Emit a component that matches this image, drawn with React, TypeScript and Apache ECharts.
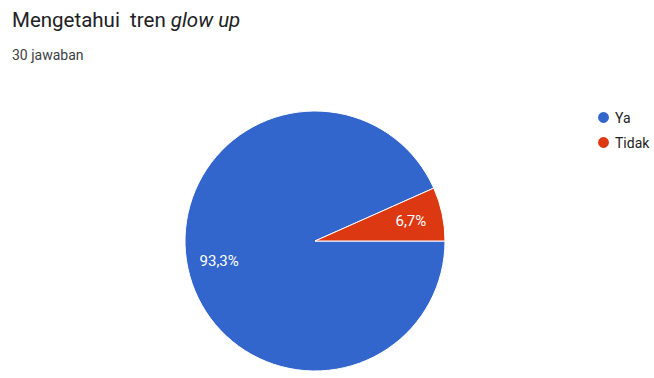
import React, { useEffect, useRef } from "react";
import * as echarts from "echarts";

const categories = ["Ya", "Tidak"];
const counts = [28, 2];
const labels = ["93,3%", "6,7%"];
const colors = ["#3366cc", "#dc3912"];
const titleText = "Mengetahui  tren ";
const titleItalic = "glow up";
const subtitleText = "30 jawaban";

export default function App() {
  const ref = useRef<HTMLDivElement>(null);
  useEffect(() => {
    if (!ref.current) return;
    const chart = echarts.init(ref.current, undefined, { renderer: "svg" });
    const data = categories.map((c, i) => ({
      name: c,
      value: counts[i],
      itemStyle: { color: colors[i] },
    }));
    chart.setOption({
      animation: false,
      textStyle: { fontFamily: "Roboto" },
      title: [
        {
          text: `${titleText}{i|${titleItalic}}`,
          left: 12,
          top: 8,
          padding: 0,
          textStyle: {
            fontSize: 20.5,
            lineHeight: 24,
            fontWeight: "normal",
            color: "#202124",
            fontFamily: "Roboto",
            rich: {
              i: { fontStyle: "italic", fontSize: 20.5, lineHeight: 24, color: "#202124", fontFamily: "Roboto" },
            },
          },
        },
        {
          text: subtitleText,
          left: 12,
          top: 47,
          padding: 0,
          textStyle: {
            fontSize: 14,
            lineHeight: 16,
            fontWeight: "normal",
            color: "#3c4043",
            fontFamily: "Roboto",
          },
        },
      ],
      legend: {
        orient: "vertical",
        left: 596,
        top: 110,
        padding: 0,
        data: categories,
        icon: "circle",
        itemWidth: 13,
        itemHeight: 13,
        itemGap: 10,
        textStyle: { fontSize: 14, color: "#222222", fontFamily: "Roboto" },
        selectedMode: false,
      },
      series: [
        {
          type: "pie",
          center: [315, 241],
          radius: [0, 130],
          startAngle: 0,
          clockwise: true,
          label: { show: false },
          labelLine: { show: false },
          itemStyle: { borderColor: "#ffffff", borderWidth: 1 },
          emphasis: { disabled: true },
          data,
        },
        {
          type: "pie",
          center: [315, 241],
          radius: [0, 190],
          startAngle: 0,
          clockwise: true,
          silent: true,
          legendHoverLink: false,
          itemStyle: { color: "rgba(0,0,0,0)", borderWidth: 0 },
          label: {
            show: true,
            position: "inside",
            color: "#ffffff",
            fontSize: 15,
            fontFamily: "Roboto",
            formatter: (p: any) => labels[p.dataIndex],
          },
          labelLine: { show: false },
          emphasis: { disabled: true },
          data: categories.map((c, i) => ({
            name: c,
            value: counts[i],
            itemStyle: { color: "rgba(0,0,0,0)" },
          })),
        },
      ],
    });
    return () => chart.dispose();
  }, []);
  return (
    <div
      ref={ref}
      style={{ position: "fixed", left: 0, top: 0, width: 654, height: 378, background: "#ffffff" }}
    />
  );
}
